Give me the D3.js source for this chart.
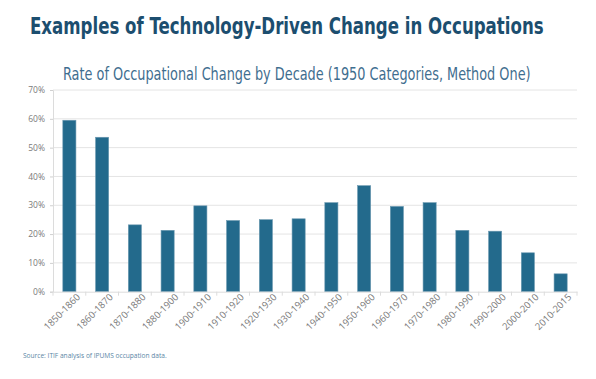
<!DOCTYPE html>
<html>
<head>
<meta charset="utf-8">
<script src="https://cdn.jsdelivr.net/npm/d3@7"></script>
<style>
  html, body { margin: 0; padding: 0; background: #fff; }
  svg { display: block; }
</style>
</head>
<body>
<svg id="chart" width="596" height="379"></svg>
<script>
const categories = ["1850-1860","1860-1870","1870-1880","1880-1900","1900-1910","1910-1920","1920-1930","1930-1940","1940-1950","1950-1960","1960-1970","1970-1980","1980-1990","1990-2000","2000-2010","2010-2015"];
const values = [59.5, 53.6, 23.2, 21.3, 29.8, 24.7, 25.0, 25.3, 30.9, 36.8, 29.6, 30.9, 21.3, 21.0, 13.5, 6.2];
const yTicks = [0, 10, 20, 30, 40, 50, 60, 70];
const titleText = "Examples of Technology-Driven Change in Occupations";
const subtitleText = "Rate of Occupational Change by Decade (1950 Categories, Method One)";
const sourceText = "Source: ITIF analysis of IPUMS occupation data.";

const svg = d3.select("#chart");
const mLeft = 53, mRight = 577, mTop = 90, mBottom = 291.7;
const condensed = "'Liberation Sans Narrow', 'DejaVu Sans Condensed', 'Arial Narrow', sans-serif";
const plain = "'Open Sans', 'DejaVu Sans', sans-serif";

// place text at (x0, y0) and squeeze horizontally to the given width
function squeezeText(sel, x0, y0, width) {
  const w = sel.node().getComputedTextLength();
  const k = w > 0 ? Math.min(1, width / w) : 1;
  sel.attr("x", 0).attr("y", 0).attr("transform", `translate(${x0},${y0}) scale(${k},1)`);
}

const x = d3.scaleBand().domain(categories).range([mLeft, mRight]).paddingInner(0.6).paddingOuter(0.3);
const xb = d3.scaleBand().domain(categories).range([mLeft, mRight]);
const y = d3.scaleLinear().domain([0, 70]).range([mBottom, mTop]);

// title
const t = svg.append("text")
  .attr("font-family", condensed).attr("font-weight", "bold").attr("font-size", 23.5)
  .attr("fill", "#1c4e6f").text(titleText);
squeezeText(t, 30, 34, 514);

const st = svg.append("text")
  .attr("font-family", condensed).attr("font-size", 17.5)
  .attr("fill", "#3f6e8f").text(subtitleText);
squeezeText(st, 63, 80, 468);

// gridlines
svg.append("g").selectAll("line").data(yTicks.filter(d => d > 0)).join("line")
  .attr("x1", mLeft).attr("x2", mRight)
  .attr("y1", d => y(d)).attr("y2", d => y(d))
  .attr("stroke", "#e4e4e4").attr("stroke-width", 1);

// y axis
const yAxis = d3.axisLeft(y).tickValues(yTicks).tickFormat(d => d + "%").tickSize(3).tickPadding(5);
const gy = svg.append("g").attr("transform", `translate(${mLeft},0)`).call(yAxis);
gy.select(".domain").attr("stroke", "#dcdcdc");
gy.selectAll(".tick line").attr("stroke", "#d0d0d0");
gy.selectAll(".tick text").attr("font-family", plain)
  .attr("font-size", 8.5).attr("fill", "#7a7a7a");

// bars
svg.append("g").selectAll("rect").data(values).join("rect")
  .attr("x", (d, i) => x(categories[i]))
  .attr("width", x.bandwidth())
  .attr("y", d => y(d))
  .attr("height", d => y(0) - y(d))
  .attr("fill", "#236a8c")
  .attr("stroke", "#6b98b0").attr("stroke-width", 0.6);

// x axis
const xAxis = d3.axisBottom(xb).tickSize(0).tickPadding(8);
const gx = svg.append("g").attr("transform", `translate(0,${mBottom})`).call(xAxis);
gx.select(".domain").attr("stroke", "#dcdcdc");
gx.selectAll(".tick text")
  .attr("font-family", plain)
  .attr("font-size", 9.5).attr("fill", "#7a7a7a")
  .attr("text-anchor", "end")
  .attr("transform", "rotate(-45)")
  .attr("dx", "0.4em").attr("dy", "0.45em");
// boundary ticks
const bounds = categories.map(c => xb(c)).concat([mRight]);
gx.append("g").selectAll("line").data(bounds).join("line")
  .attr("x1", d => d).attr("x2", d => d).attr("y1", 0).attr("y2", 4)
  .attr("stroke", "#dcdcdc");

// source
const src = svg.append("text")
  .attr("font-family", plain).attr("font-size", 7)
  .attr("fill", "#5b86a5").text(sourceText);
squeezeText(src, 23, 358, 144);
</script>
</body>
</html>
